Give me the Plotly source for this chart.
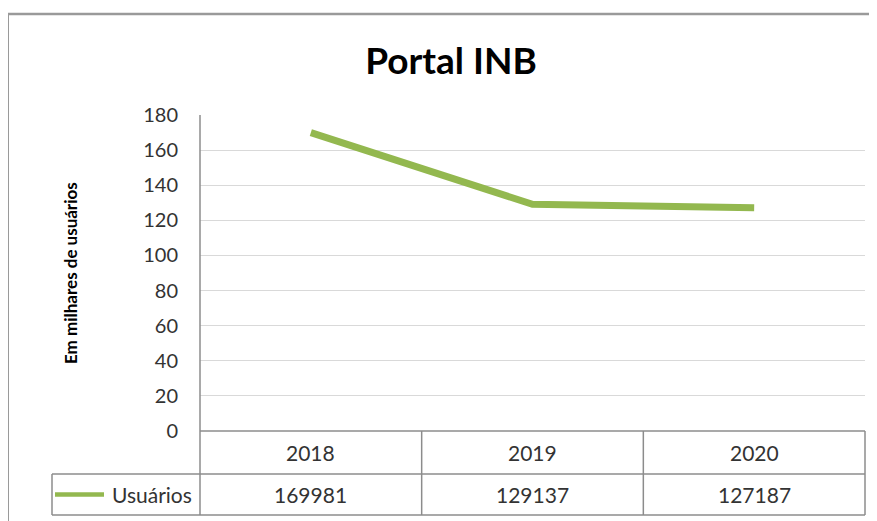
import plotly.graph_objects as go

# dados
anos = ["2018", "2019", "2020"]
usuarios = [169981, 129137, 127187]
serie = "Usuários"
titulo = "Portal INB"
titulo_y = "Em milhares de usuários"
y_ticks = list(range(0, 181, 20))

# a pagina tem margem de 8px no body, por isso desconto OX/OY
OX, OY = 8, 7
W, H = 877 - OX, 521 - OY
L, R, T, B = 200, 865, 114, 430   # area do grafico (coordenadas da janela)
pw, ph = R - L, B - T

def px(x):
    return (x - L) / pw

def py(y):
    return (B - y) / ph

verde = "#93b84f"
borda = "#8c8c8c"
fonte = "Lato, Open Sans, sans-serif"

fig = go.Figure()
fig.add_trace(go.Scatter(
    x=list(range(len(anos))), y=[v / 1000 for v in usuarios],
    mode="lines", name=serie,
    line=dict(color=verde, width=7),
))

fig.update_layout(
    width=W, height=H,
    margin=dict(l=L - OX, r=W - (R - OX), t=T - OY, b=H - (B - OY)),
    plot_bgcolor="white", paper_bgcolor="white",
    showlegend=False,
    font=dict(family=fonte, color="#333333", size=21),
    title=dict(text="<b>" + titulo + "</b>", x=(451 - OX) / W,
               xanchor="center", xref="container",
               y=1 - (60 - OY) / H, yanchor="middle",
               font=dict(size=37, color="black", family=fonte)),
    xaxis=dict(range=[-0.5, len(anos) - 0.5], showticklabels=False,
               showgrid=False, zeroline=False, showline=False),
    yaxis=dict(range=[0, 180], tickvals=y_ticks, showgrid=True,
               gridcolor="#d9d9d9", gridwidth=1, zeroline=False,
               showline=False, ticks="", ticklabelstandoff=21,
               tickfont=dict(size=20, color="#333333")),
)

# titulo do eixo y
fig.add_annotation(text="<b>" + titulo_y + "</b>", textangle=-90,
                   x=px(70), y=py(272), xref="paper", yref="paper",
                   xanchor="center", yanchor="middle",
                   showarrow=False, font=dict(size=17, color="black"))

shapes = []
def linha(x0, y0, x1, y1, cor=borda, w=1.5):
    shapes.append(dict(type="line", xref="paper", yref="paper",
                       x0=px(x0), y0=py(y0), x1=px(x1), y1=py(y1),
                       line=dict(color=cor, width=w)))

# moldura externa
linha(8, 13, 900, 13, "#9a9a9a", 2.5)
linha(8, 13, 8, 540, "#9a9a9a", 2)

# tabela de dados
r1, r2, r3 = 430, 473, 514
linha(L, T, L, r3)
linha(L, r1, R, r1)
linha(52, r2, R, r2)
linha(52, r3, R, r3)
linha(52, r2, 52, r3)
linha(R, r1, R, r3)
for i in range(1, len(anos)):
    xi = L + pw * i / len(anos)
    linha(xi, r1, xi, r3)
# chave da legenda
linha(55, (r2 + r3) / 2, 104, (r2 + r3) / 2, verde, 4.5)
fig.update_layout(shapes=shapes)

for i, (a, v) in enumerate(zip(anos, usuarios)):
    xc = (i + 0.5) / len(anos)
    fig.add_annotation(text=a, x=xc, y=py((r1 + r2) / 2), xref="paper",
                       yref="paper", xanchor="center", yanchor="middle",
                       showarrow=False)
    fig.add_annotation(text=str(v), x=xc, y=py((r2 + r3) / 2), xref="paper",
                       yref="paper", xanchor="center", yanchor="middle",
                       showarrow=False)
fig.add_annotation(text=serie, x=px(194), y=py((r2 + r3) / 2), xref="paper",
                   yref="paper", xanchor="right", yanchor="middle",
                   showarrow=False)

fig.write_html("out.html")
